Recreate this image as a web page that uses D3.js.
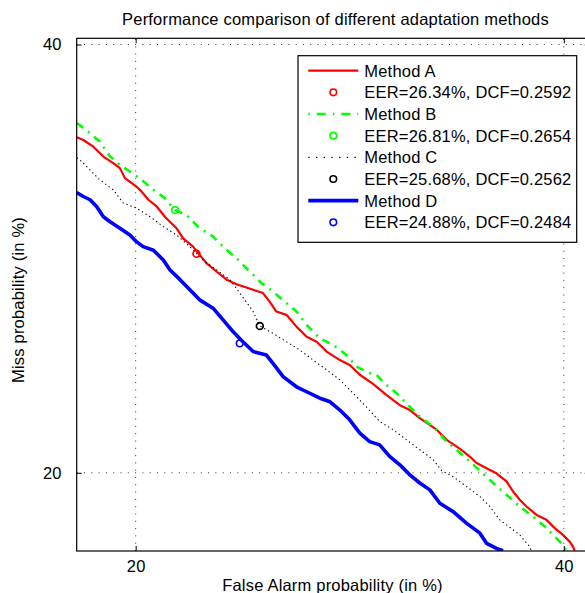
<!DOCTYPE html>
<html>
<head>
<meta charset="utf-8">
<script src="https://cdn.jsdelivr.net/npm/d3@7"></script>
<style>
body { margin: 0; background: #fff; }
svg { display: block; font-family: "Liberation Sans", Arial, Helvetica, sans-serif; }
</style>
</head>
<body>
<svg id="vis" width="585" height="593"></svg>
<script>
const svg = d3.select("#vis");

// values, in %
const methods = ["Method A", "Method B", "Method C", "Method D"];
const resultLabels = ["EER=26.34%, DCF=0.2592", "EER=26.81%, DCF=0.2654",
                      "EER=25.68%, DCF=0.2562", "EER=24.88%, DCF=0.2484"];
const COLORS = ["#ff0000", "#00ff00", "#000000", "#0000ff"];

const faA = [17.81,18.05,18.41,18.78,19.15,19.40,19.59,20.03,20.23,20.49,20.82,21.14,21.61,21.88,22.28,22.83,23.25,23.68,24.10,24.82,25.25,25.54,25.84,26.29,26.74,27.20,27.66,28.12,28.74,29.20,29.68,30.31,30.95,31.61,32.10,32.59,33.43,33.93,34.59,35.10,35.45,36.13,36.47,36.99,37.33,37.68,38.03,38.56,39.08,39.52,39.95,40.31,40.49,40.58];
const missA = [35.17,35.03,34.69,34.19,33.86,33.61,33.11,32.69,32.44,32.04,31.71,31.21,30.65,30.17,29.77,28.99,28.60,28.22,28.01,27.75,27.60,27.21,26.76,26.61,26.08,25.63,25.41,24.98,24.61,24.40,23.98,23.59,23.13,22.70,22.50,22.17,21.70,21.29,20.94,20.63,20.38,20.11,19.98,19.67,19.29,18.98,18.73,18.42,18.24,17.94,17.70,17.46,17.28,17.14];

const faB = [17.81,17.90,18.29,18.65,19.03,19.40,19.78,20.23,20.69,21.14,21.55,22.02,22.48,23.11,23.53,24.10,24.67,25.18,25.69,26.29,26.74,27.20,27.81,28.43,29.05,29.52,30.15,30.47,30.95,31.45,32.02,32.59,33.34,33.84,34.42,35.10,35.71,36.30,36.99,37.68,38.37,38.99,39.52,39.95,40.13];
const missB = [35.89,35.81,35.38,34.95,34.19,33.77,33.44,33.02,32.53,32.12,31.54,31.29,30.73,30.25,29.77,29.22,28.60,28.06,27.67,27.14,26.76,26.16,25.56,25.27,24.83,24.33,24.05,23.98,23.55,23.20,22.70,22.23,21.77,21.29,20.90,20.44,20.02,19.61,19.17,18.73,18.36,18.00,17.64,17.34,17.14];

const faC = [17.81,17.99,18.29,18.65,19.15,19.53,20.03,20.56,21.08,21.61,22.15,22.69,23.25,23.82,24.24,24.67,24.82,25.11,25.69,26.29,26.89,27.50,28.12,28.74,29.36,29.99,30.63,31.28,31.94,32.59,33.26,33.68,34.26,34.93,35.62,36.13,36.64,37.16,37.68,38.20,38.29];
const missC = [34.13,33.94,33.52,33.02,32.53,31.87,31.63,31.21,30.73,30.33,29.77,29.14,28.68,28.22,27.60,26.98,26.76,26.11,25.78,25.41,25.05,24.61,24.19,23.76,23.20,22.63,22.03,21.70,21.29,20.90,20.51,20.08,19.85,19.48,19.10,18.73,18.24,17.97,17.70,17.28,17.14];

const faD = [17.81,18.05,18.29,18.53,18.78,19.03,19.40,19.78,20.03,20.29,20.69,21.08,21.34,21.75,22.15,22.55,23.11,23.53,23.96,24.31,24.82,25.40,25.69,26.14,26.74,27.20,27.81,28.28,28.74,29.20,29.68,30.15,30.63,31.11,31.61,32.10,32.59,33.09,33.59,34.26,34.93,35.62,35.96,36.47,36.81];
const missD = [32.39,32.20,32.04,31.71,31.21,30.97,30.65,30.33,30.01,29.77,29.60,29.14,28.68,28.22,27.75,27.29,26.91,26.38,25.85,25.48,24.98,24.83,24.47,23.90,23.47,23.26,22.99,22.84,22.50,22.10,21.56,21.22,21.09,20.64,20.31,19.92,19.61,19.35,18.85,18.54,18.12,17.76,17.40,17.22,17.14];

// min DCF operating points (fa, miss)
const dcfFa = [22.42, 21.55, 25.11, 24.24];
const dcfMiss = [29.43, 31.54, 26.11, 25.34];

const tickValues = [20, 40];
const xDomain = [17.81, 41.38];
const yDomain = [17.13, 40.33];

// inverse normal cdf (Acklam), DET axes are in normal deviate
function probit(p) {
    const a = [-3.969683028665376e+01, 2.209460984245205e+02, -2.759285104469687e+02, 1.383577518672690e+02, -3.066479806614716e+01, 2.506628277459239e+00];
    const b = [-5.447609879822406e+01, 1.615858368580409e+02, -1.556989798598866e+02, 6.680131188771972e+01, -1.328068155288572e+01];
    const c = [-7.784894002430293e-03, -3.223964580411365e-01, -2.400758277161838e+00, -2.549732539343734e+00, 4.374664141464968e+00, 2.938163982698783e+00];
    const d = [7.784695709041462e-03, 3.224671290700398e-01, 2.445134137142996e+00, 3.754408661907416e+00];
    if (p < 0.02425) {
        const q = Math.sqrt(-2 * Math.log(p));
        return (((((c[0]*q+c[1])*q+c[2])*q+c[3])*q+c[4])*q+c[5]) / ((((d[0]*q+d[1])*q+d[2])*q+d[3])*q+1);
    }
    if (p > 1 - 0.02425) return -probit(1 - p);
    const q = p - 0.5, r = q * q;
    return (((((a[0]*r+a[1])*r+a[2])*r+a[3])*r+a[4])*r+a[5])*q / (((((b[0]*r+b[1])*r+b[2])*r+b[3])*r+b[4])*r+1);
}
const dev = pct => probit(pct / 100);

const plot = {left: 76.7, right: 589.7, top: 38.3, bottom: 551};
const x = d3.scaleLinear().domain(xDomain.map(dev)).range([plot.left, plot.right]);
const y = d3.scaleLinear().domain(yDomain.map(dev)).range([plot.bottom, plot.top]);

const series = [
    {name: methods[0], pts: d3.zip(faA, missA), width: 2.2, dash: null},
    {name: methods[1], pts: d3.zip(faB, missB), width: 2.6, dash: "8,6,2,6"},
    {name: methods[2], pts: d3.zip(faC, missC), width: 1.1, dash: "1.3,3"},
    {name: methods[3], pts: d3.zip(faD, missD), width: 3.6, dash: null}
];

svg.append("defs").append("clipPath").attr("id", "clip")
    .append("rect")
    .attr("x", plot.left).attr("y", plot.top)
    .attr("width", plot.right - plot.left).attr("height", plot.bottom - plot.top);

// grid
const grid = svg.append("g").attr("stroke", "#333").attr("stroke-width", 1)
    .attr("stroke-dasharray", "1,6.3");
grid.selectAll(".vgrid").data(tickValues).join("line")
    .attr("class", "vgrid")
    .attr("x1", d => x(dev(d))).attr("x2", d => x(dev(d)))
    .attr("y1", plot.bottom).attr("y2", plot.top);
grid.selectAll(".hgrid").data(tickValues).join("line")
    .attr("class", "hgrid")
    .attr("y1", d => y(dev(d))).attr("y2", d => y(dev(d)))
    .attr("x1", plot.left).attr("x2", plot.right);

// curves
const line = d3.line().x(d => x(dev(d[0]))).y(d => y(dev(d[1])));
const curves = svg.append("g").attr("clip-path", "url(#clip)");
curves.selectAll(".curve").data(series).join("path")
    .attr("class", "curve")
    .attr("fill", "none")
    .attr("stroke", (d, i) => COLORS[i])
    .attr("stroke-width", d => d.width)
    .attr("stroke-dasharray", d => d.dash)
    .attr("stroke-linejoin", "round")
    .attr("d", d => line(d.pts));

curves.selectAll(".dcf").data(d3.zip(dcfFa, dcfMiss)).join("circle")
    .attr("class", "dcf")
    .attr("cx", d => x(dev(d[0])))
    .attr("cy", d => y(dev(d[1])))
    .attr("r", 3.4)
    .attr("fill", "none")
    .attr("stroke", (d, i) => COLORS[i])
    .attr("stroke-width", 1.7);

// axes, ticks pointing inwards
const tickDev = tickValues.map(dev);
const fmt = (d, i) => tickValues[i];
const styleAxis = g => {
    g.select(".domain").remove();
    g.selectAll("text").attr("font-size", "16.5px").attr("fill", "#000")
        .attr("font-family", null).style("letter-spacing", "0.2px");
};
svg.append("g").attr("transform", `translate(0,${plot.bottom})`)
    .call(d3.axisBottom(x).tickValues(tickDev).tickFormat(fmt).tickSize(-5).tickPadding(9))
    .call(styleAxis);
svg.append("g").attr("transform", `translate(${plot.left},0)`)
    .call(d3.axisLeft(y).tickValues(tickDev).tickFormat(fmt).tickSize(-5).tickPadding(15))
    .call(styleAxis);
svg.append("g").attr("transform", `translate(0,${plot.top})`)
    .call(d3.axisTop(x).tickValues(tickDev).tickFormat("").tickSize(-5))
    .call(styleAxis);
svg.append("g").attr("transform", `translate(${plot.right},0)`)
    .call(d3.axisRight(y).tickValues(tickDev).tickFormat("").tickSize(-5))
    .call(styleAxis);

svg.append("rect")
    .attr("x", plot.left).attr("y", plot.top)
    .attr("width", plot.right - plot.left).attr("height", plot.bottom - plot.top)
    .attr("fill", "none").attr("stroke", "#000").attr("stroke-width", 1.2);

// titles
svg.append("text")
    .attr("x", 335.5).attr("y", 25)
    .attr("text-anchor", "middle")
    .attr("font-size", "16.5px").style("letter-spacing", "0.2px")
    .text("Performance comparison of different adaptation methods");
svg.append("text")
    .attr("x", 332.5).attr("y", 590.5)
    .attr("text-anchor", "middle")
    .attr("font-size", "16.5px").style("letter-spacing", "0.2px")
    .text("False Alarm probability (in %)");
svg.append("text")
    .attr("transform", "translate(24,300) rotate(-90)")
    .attr("text-anchor", "middle")
    .attr("font-size", "16.5px").style("letter-spacing", "0.2px")
    .text("Miss probability (in %)");

// legend
const legend = svg.append("g");
legend.append("rect")
    .attr("x", 298).attr("y", 55.7)
    .attr("width", 278.7).attr("height", 186.6)
    .attr("fill", "#fff").attr("stroke", "#000").attr("stroke-width", 1.2);

const rowH = 21.66, row0 = 70.7;
const entries = legend.selectAll(".entry").data(series).join("g")
    .attr("class", "entry")
    .attr("transform", (d, i) => `translate(0,${row0 + i * 2 * rowH})`);
entries.append("line")
    .attr("x1", 308.3).attr("x2", 358.3)
    .attr("stroke", (d, i) => COLORS[i])
    .attr("stroke-width", d => d.width === 1.1 ? 1.1 : d.width)
    .attr("stroke-dasharray", (d, i) => i === 2 ? "1.3,6.4" : (i === 1 ? "1.5,7,9,7" : null));
entries.append("text")
    .attr("x", 364.3).attr("dy", "0.36em")
    .attr("font-size", "16.5px").style("letter-spacing", "0.2px")
    .text(d => d.name);
entries.append("circle")
    .attr("cx", 333.3).attr("cy", rowH)
    .attr("r", 3.3)
    .attr("fill", "none")
    .attr("stroke", (d, i) => COLORS[i])
    .attr("stroke-width", 1.6);
entries.append("text")
    .attr("x", 364.3).attr("y", rowH).attr("dy", "0.36em")
    .attr("font-size", "16.5px").style("letter-spacing", "0.2px")
    .text((d, i) => resultLabels[i]);
</script>
</body>
</html>
